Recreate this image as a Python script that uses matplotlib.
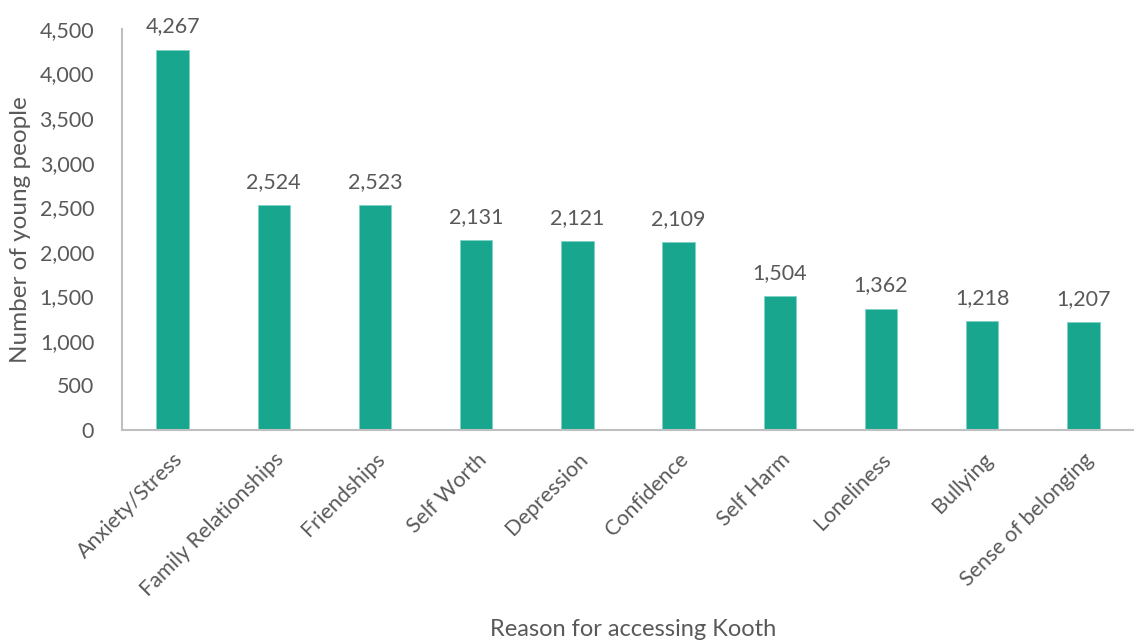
"""bar chart of reasons young people accessed Kooth"""
import matplotlib
matplotlib.use("Agg")
import matplotlib.pyplot as plt
from matplotlib.ticker import FuncFormatter

reasons = ["Anxiety/Stress", "Family Relationships", "Friendships", "Self Worth",
           "Depression", "Confidence", "Self Harm", "Loneliness", "Bullying",
           "Sense of belonging"]
counts = [4267, 2524, 2523, 2131, 2121, 2109, 1504, 1362, 1218, 1207]

TEXT = "#595959"
plt.rcParams["font.family"] = ["Lato", "DejaVu Sans"]

fig = plt.figure(figsize=(11.34, 6.44), dpi=100)
ax = fig.add_axes([122 / 1134, 1 - 430 / 644, 1012 / 1134, 401 / 644])

x = range(len(reasons))
bars = ax.bar(x, counts, width=0.32, color="#19A68F", edgecolor="#7FD3C4", linewidth=0.6)

for rect, v in zip(bars, counts):
    ax.text(rect.get_x() + rect.get_width() / 2, v + 150, f"{v:,}",
            ha="center", va="bottom", fontsize=15.5, color=TEXT)

ax.set_xlim(-0.5, len(reasons) - 0.5)
ax.set_ylim(0, 4500)
ax.set_yticks(range(0, 4501, 500))
ax.yaxis.set_major_formatter(FuncFormatter(lambda v, _: f"{int(v):,}"))
ax.set_xticks(list(x))
ax.set_xticklabels(reasons, rotation=45, ha="right", rotation_mode="anchor",
                   fontsize=15.5, color=TEXT)
ax.tick_params(axis="x", length=0, pad=14)
ax.tick_params(axis="y", length=0, pad=20, labelsize=15.5, labelcolor=TEXT)

for side in ("top", "right"):
    ax.spines[side].set_visible(False)
for side in ("left", "bottom"):
    ax.spines[side].set_color("#BFBFBF")
    ax.spines[side].set_linewidth(1.5)

ax.set_ylabel("Number of young people", fontsize=17.5, color=TEXT, labelpad=6)
fig.text(633 / 1134, 1 - 630 / 644, "Reason for accessing Kooth", ha="center",
         va="center", fontsize=17, color=TEXT)

fig.savefig("out.png", dpi=100)
